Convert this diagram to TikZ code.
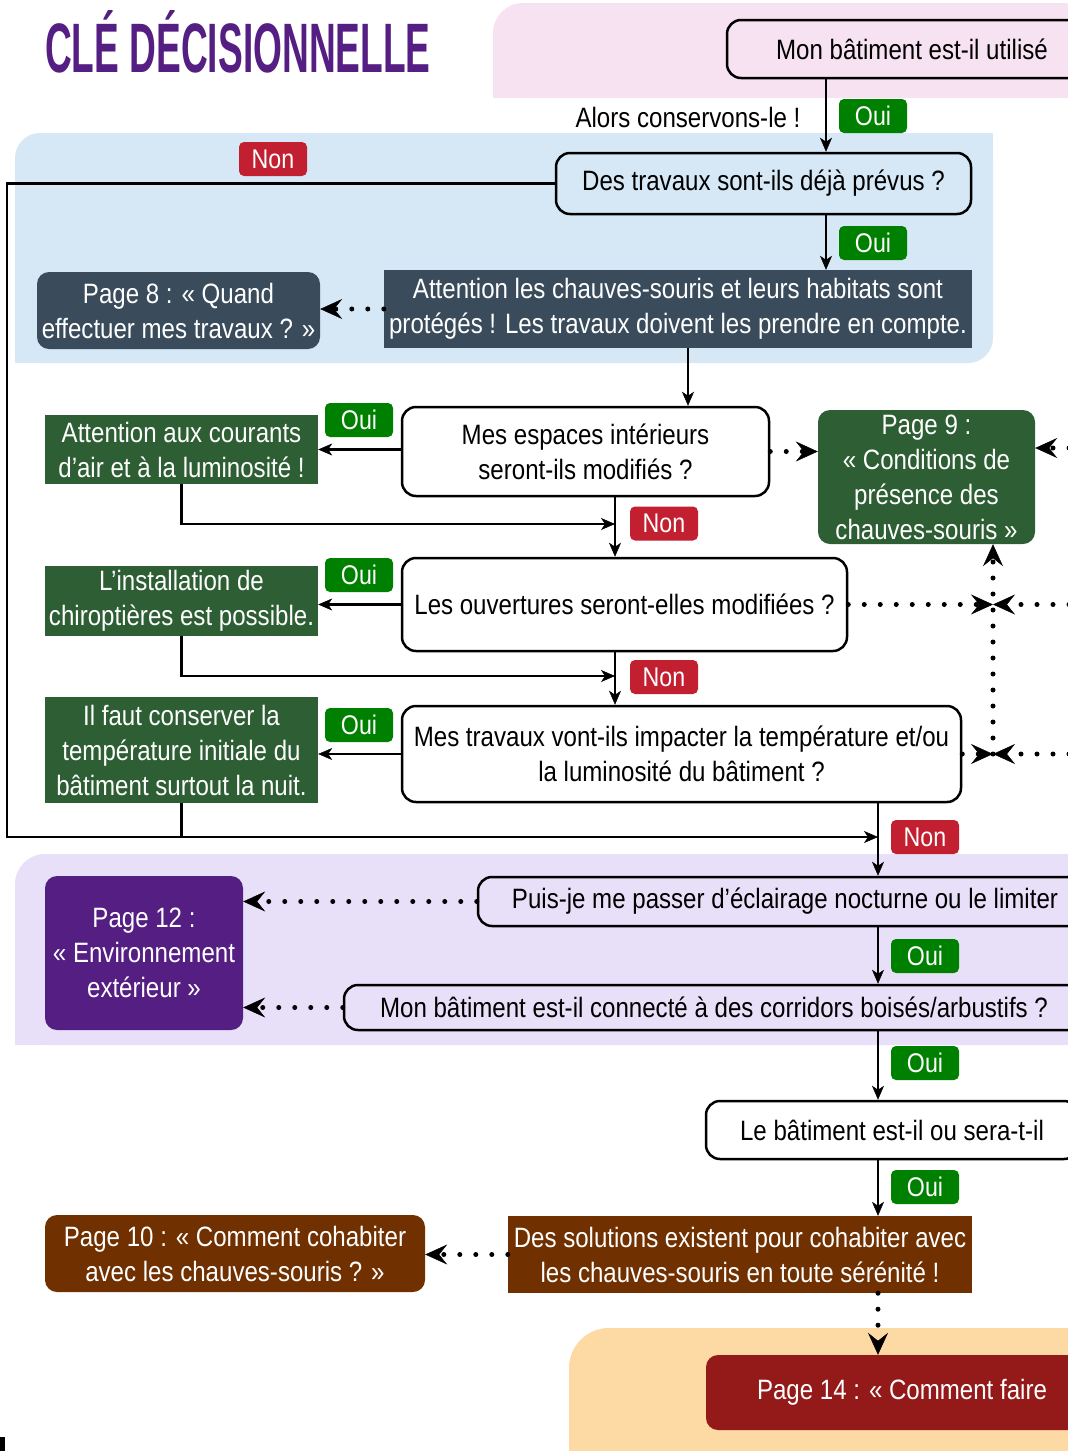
\documentclass[tikz,border=0pt]{standalone}
\usepackage{fontspec}
\setmainfont{Liberation Sans}[FakeStretch=0.86]
\newfontfamily\titlefont{Liberation Sans}[FakeStretch=0.53]
\usetikzlibrary{arrows.meta}
\definecolor{bgPink}{HTML}{F6E2F1}
\definecolor{bgBlue}{HTML}{D6E8F6}
\definecolor{bgLav}{HTML}{E8E0F8}
\definecolor{bgOrange}{HTML}{FDD9A3}
\definecolor{cSlate}{HTML}{3A4C5C}
\definecolor{cGreen}{HTML}{2E5E33}
\definecolor{cBadgeG}{HTML}{008000}
\definecolor{cBadgeR}{HTML}{C21F30}
\definecolor{cPurple}{HTML}{541E82}
\definecolor{cBrown}{HTML}{703000}
\definecolor{cDRed}{HTML}{941919}
\newcommand\boxfont{\fontsize{28}{35}\selectfont}
\newcommand\badgefont{\fontsize{27}{30}\selectfont}
\tikzset{
  q/.style={draw=black, line width=2.5pt, rounded corners=14pt, align=center, font=\boxfont, inner sep=0pt, text=black},
  solidbox/.style={fill=#1, align=center, font=\boxfont, text=white, inner sep=0pt},
  rbox/.style={solidbox=#1, rounded corners=12pt},
  badge/.style={fill=#1, rounded corners=5pt, text=white, font=\badgefont, minimum width=68pt, minimum height=34pt, inner sep=0pt},
  arr/.style={line width=2.5pt, -{Stealth[length=14pt,width=12pt,inset=4pt,line width=0.5pt]}},
  plain/.style={line width=2.5pt},
  darr/.style={line width=5pt, line cap=round, dash pattern=on 0pt off 16pt, -{Stealth[length=22pt,width=20pt,inset=8pt,line width=0.5pt]}}
}
\begin{document}
\begin{tikzpicture}[x=1pt,y=-1pt]
\useasboundingbox (0,0) rectangle (1068,1451);
\clip (0,0) rectangle (1068,1451);
% background regions
\fill[bgPink, rounded corners=30pt] (493,3) rectangle (1150,98);
\fill[bgPink] (493,50) rectangle (600,98);
\fill[bgBlue, rounded corners=25pt] (15,133) rectangle (993,363);
\fill[bgBlue] (15,250) rectangle (100,363);
\fill[bgBlue] (900,133) rectangle (993,250);
\fill[bgLav, rounded corners=30pt] (15,854) rectangle (1150,1045);
\fill[bgLav] (15,950) rectangle (100,1045);
\fill[bgOrange, rounded corners=40pt] (569,1328) rectangle (1150,1500);
\fill[black] (0,1437) rectangle (5,1451);
% title
\node[font=\titlefont\bfseries\fontsize{70}{70}\selectfont, text=cPurple, anchor=base west, inner sep=0pt] (title) at (45,72) {CLÉ DÉCISIONNELLE};
% helper coordinates
\coordinate (c826) at (826,0);
\coordinate (c688) at (688,0);
\coordinate (c615) at (615,0);
\coordinate (c878) at (878,0);
\coordinate (c993) at (993,0);
\coordinate (j1) at (615,524);
\coordinate (j2) at (615,676);
\coordinate (j3) at (878,837);
\coordinate (l837) at (7,837);
\coordinate (r448) at (1085,448);
\coordinate (r604) at (1085,604.5);
\coordinate (r754) at (1085,754);
% nodes
\node[q, minimum width=370pt, minimum height=58pt] (mon) at (912,49) {Mon bâtiment est-il utilisé};
\node[q, minimum width=415pt, minimum height=61pt] (travaux) at (763.5,183.5) {Des travaux sont-ils déjà prévus ?};
\node[solidbox=cSlate, minimum width=588pt, minimum height=78pt] (attn) at (678,309) {Attention les chauves-souris et leurs habitats sont\\protégés ! Les travaux doivent les prendre en compte.};
\node[rbox=cSlate, minimum width=283pt, minimum height=77pt] (p8) at (178.5,310.5) {Page 8 : « Quand\\effectuer mes travaux ? »};
\node[q, minimum width=367pt, minimum height=89pt] (espaces) at (585.5,451.5) {Mes espaces intérieurs\\seront-ils modifiés ?};
\node[solidbox=cGreen, minimum width=273pt, minimum height=69pt] (g1) at (181.5,449.5) {Attention aux courants\\d’air et à la luminosité !};
\node[rbox=cGreen, minimum width=217pt, minimum height=134pt] (p9) at (926.5,477) {Page 9 :\\« Conditions de\\présence des\\chauves-souris »};
\node[q, minimum width=445pt, minimum height=93pt] (ouv) at (624.5,604.5) {Les ouvertures seront-elles modifiées ?};
\node[solidbox=cGreen, minimum width=273pt, minimum height=70pt] (g2) at (181.5,601) {L’installation de\\chiroptières est possible.};
\node[q, minimum width=559pt, minimum height=96pt] (trav2) at (681.5,754) {Mes travaux vont-ils impacter la température et/ou\\la luminosité du bâtiment ?};
\node[solidbox=cGreen, minimum width=273pt, minimum height=106pt] (g3) at (181.5,750) {Il faut conserver la\\température initiale du\\bâtiment surtout la nuit.};
\node[rbox=cPurple, minimum width=198pt, minimum height=154pt] (p12) at (144,953) {Page 12 :\\« Environnement\\extérieur »};
\node[q, minimum width=614pt, minimum height=49pt] (puis) at (785,901.5) {Puis-je me passer d’éclairage nocturne ou le limiter};
\node[q, minimum width=740pt, minimum height=45pt] (corr) at (714,1007.5) {Mon bâtiment est-il connecté à des corridors boisés/arbustifs ?};
\node[q, minimum width=372pt, minimum height=58pt] (leb) at (892,1130) {Le bâtiment est-il ou sera-t-il};
\node[solidbox=cBrown, minimum width=464pt, minimum height=77pt] (sol) at (740,1254.5) {Des solutions existent pour cohabiter avec\\les chauves-souris en toute sérénité !};
\node[rbox=cBrown, minimum width=380pt, minimum height=77pt] (p10) at (235,1253.5) {Page 10 : « Comment cohabiter\\avec les chauves-souris ? »};
\node[rbox=cDRed, minimum width=392pt, minimum height=75pt] (p14) at (902,1392.5) {Page 14 : « Comment faire};
\node[font=\boxfont, inner sep=0pt] (alors) at (688,117) {Alors conservons-le !};
% connectors
\draw[arr] (mon.south -| c826) -- (travaux.north -| c826);
\draw[arr] (travaux.south -| c826) -- (attn.north -| c826);
\draw[darr] (attn.west) -- (attn.west -| p8.east);
\draw[arr] (attn.south -| c688) -- (espaces.north -| c688);
\draw[arr] (espaces.west |- g1.east) -- (g1.east);
\draw[darr] (espaces.east) -- (espaces.east -| p9.west);
\draw[darr] (r448) -- (r448 -| p9.east);
\draw[arr] (espaces.south -| c615) -- (ouv.north -| c615);
\draw[arr] (g1.south) |- (j1);
\draw[arr] (ouv.west) -- (ouv.west -| g2.east);
\draw[darr] (ouv.east) -- (ouv.east -| c993);
\draw[darr] (r604) -- (r604 -| c993);
\draw[darr] (trav2.east -| c993) -- (p9.south -| c993);
\draw[darr] (trav2.east) -- (trav2.east -| c993);
\draw[darr] (r754) -- (r754 -| c993);
\draw[arr] (g2.south) |- (j2);
\draw[arr] (ouv.south -| c615) -- (trav2.north -| c615);
\draw[arr] (trav2.west) -- (trav2.west -| g3.east);
\draw[plain] (g3.south) -- (g3.south |- j3);
\draw[arr] (travaux.west) -| (l837) -- (j3);
\draw[arr] (trav2.south -| c878) -- (puis.north -| c878);
\draw[darr] (puis.west) -- (puis.west -| p12.east);
\draw[darr] (corr.west) -- (corr.west -| p12.east);
\draw[arr] (puis.south -| c878) -- (corr.north -| c878);
\draw[arr] (corr.south -| c878) -- (leb.north -| c878);
\draw[arr] (leb.south -| c878) -- (sol.north -| c878);
\draw[darr] (sol.west) -- (sol.west -| p10.east);
\draw[darr] (sol.south -| c878) -- (p14.north -| c878);
% badges
\node[badge=cBadgeG] (oui1) at (873,116) {Oui};
\node[badge=cBadgeR] (non1) at (273,159) {Non};
\node[badge=cBadgeG] (oui2) at (873,243) {Oui};
\node[badge=cBadgeG] (oui3) at (359,420) {Oui};
\node[badge=cBadgeR] (non2) at (664,523.5) {Non};
\node[badge=cBadgeG] (oui4) at (359,575) {Oui};
\node[badge=cBadgeR] (non3) at (664,677) {Non};
\node[badge=cBadgeG] (oui5) at (359,725) {Oui};
\node[badge=cBadgeR] (non4) at (925,837) {Non};
\node[badge=cBadgeG] (oui6) at (925,956) {Oui};
\node[badge=cBadgeG] (oui7) at (925,1063) {Oui};
\node[badge=cBadgeG] (oui8) at (925,1187) {Oui};
\end{tikzpicture}
\end{document}
